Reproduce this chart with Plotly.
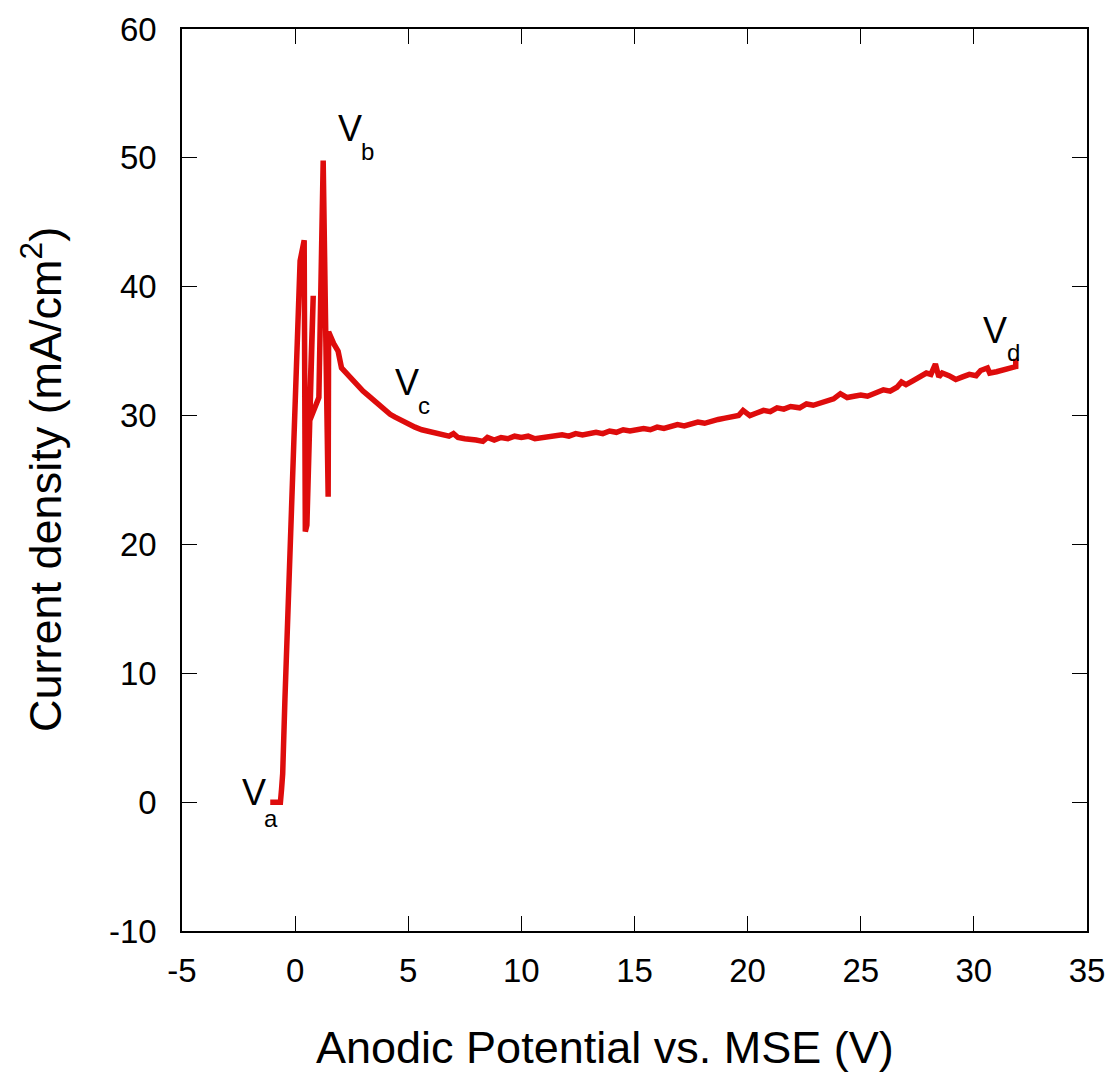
import plotly.graph_objects as go

# Anodic potential (V) and current density (mA/cm^2)
potential = [-1.1, -0.65, -0.6, -0.55, -0.45, -0.3, -0.15, 0.08, 0.22, 0.4, 0.45, 0.52, 0.8, 0.62, 1.05, 1.24, 1.46, 1.48,
             1.7, 1.9, 2.05, 2.3, 2.6, 2.8, 3.0, 3.2, 3.4, 3.6, 3.8, 4.0, 4.2, 4.4, 4.6, 4.8, 5.0, 5.3, 5.6, 5.9,
             6.2, 6.5, 6.8, 7.0, 7.2, 7.5, 7.8, 8.0, 8.3, 8.5, 8.8, 9.1, 9.4, 9.7, 10.0, 10.3, 10.6, 10.9, 11.2,
             11.5, 11.8, 12.1, 12.4, 12.7, 13.0, 13.3, 13.6, 13.9, 14.2, 14.5, 14.8, 15.1, 15.4, 15.7, 16.0, 16.3,
             16.6, 16.9, 17.2, 17.5, 17.8, 18.1, 18.4, 18.7, 19.0, 19.3, 19.6, 19.8, 20.1, 20.4, 20.7, 21.0, 21.3,
             21.6, 21.9, 22.3, 22.6, 22.9, 23.2, 23.5, 23.8, 24.1, 24.4, 24.7, 25.0, 25.3, 25.7, 26.0, 26.3, 26.6,
             26.8, 27.0, 27.3, 27.6, 27.9, 28.1, 28.3, 28.45, 28.6, 28.9, 29.2, 29.5, 29.8, 30.1, 30.3, 30.6, 30.7,
             31.0, 31.4, 31.7, 31.85, 31.85]
current = [0.0, 0.0, 1.0, 2.2, 8.0, 15.5, 23.0, 34.3, 42.0, 43.6, 21.0, 21.5, 39.3, 29.5, 31.4, 49.8, 23.7, 36.5,
           35.6, 35.0, 33.7, 33.2, 32.7, 32.3, 31.9, 31.6, 31.3, 30.9, 30.7, 30.4, 30.1, 29.9, 29.7, 29.5, 29.3, 29.1, 28.9, 28.8,
           28.7, 28.5, 28.4, 28.6, 28.3, 28.2, 28.2, 28.1, 28.0, 28.3, 28.1, 28.3, 28.2, 28.4, 28.3, 28.4, 28.2, 28.3, 28.3,
           28.4, 28.5, 28.4, 28.6, 28.5, 28.6, 28.7, 28.6, 28.8, 28.7, 28.9, 28.8, 28.9, 29.0, 28.9, 29.1, 29.0,
           29.2, 29.3, 29.2, 29.4, 29.5, 29.4, 29.6, 29.7, 29.8, 29.9, 30.0, 30.4, 30.0, 30.2, 30.4, 30.3, 30.6,
           30.5, 30.7, 30.6, 30.9, 30.8, 31.0, 31.1, 31.3, 31.7, 31.4, 31.5, 31.6, 31.5, 31.8, 32.0, 31.9, 32.2,
           32.6, 32.4, 32.7, 33.0, 33.3, 33.2, 34.0, 33.0, 33.3, 33.1, 32.8, 33.0, 33.2, 33.1, 33.5, 33.7, 33.3,
           33.4, 33.6, 33.7, 33.8, 34.4]

x_ticks = [-5, 0, 5, 10, 15, 20, 25, 30, 35]
x_tick_text = ["-5", "0", "5", "10", "15", "20", "25", "30", "35"]
y_ticks = [-10, 0, 10, 20, 30, 40, 50, 60]
y_tick_text = ["-10", "0", "10", "20", "30", "40", "50", "60"]

# Point labels: letter, position of "V" and of its subscript (data units)
label_names = ["a", "b", "c", "d"]
label_v_x = [-1.81, 2.41, 4.95, 30.94]
label_v_y = [0.75, 52.27, 32.6, 36.6]
label_s_x = [-1.06, 3.2, 5.7, 31.73]
label_s_y = [-1.3, 50.5, 30.8, 34.9]

FONT = "Liberation Sans, Arial, sans-serif"

# page body has an 8px margin; compensate so the plot lands where the reference has it
OFF = 8
W, H = 1113 - OFF, 1074 - OFF
L, R, T, B = 182 - OFF, 1087 - OFF, 29 - OFF, 931 - OFF

fig = go.Figure()
fig.add_trace(go.Scatter(x=potential, y=current, mode="lines",
                         line=dict(color="rgb(222,12,12)", width=5.5),
                         showlegend=False))

annotations = []
for n, vx, vy, sx, sy in zip(label_names, label_v_x, label_v_y, label_s_x, label_s_y):
    annotations.append(dict(x=vx, y=vy, xref="x", yref="y", text="V", showarrow=False,
                            font=dict(family=FONT, size=36, color="black"),
                            xanchor="center", yanchor="middle"))
    annotations.append(dict(x=sx, y=sy, xref="x", yref="y", text=n, showarrow=False,
                            font=dict(family=FONT, size=24, color="black"),
                            xanchor="center", yanchor="middle"))

annotations.append(dict(x=(605 - OFF - L) / (R - L), y=-(1047 - OFF - B) / (B - T), xref="paper", yref="paper",
                        text="Anodic Potential vs. MSE (V)", showarrow=False,
                        font=dict(family=FONT, size=45, color="black"),
                        xanchor="center", yanchor="middle"))
annotations.append(dict(x=-(L - (42 - OFF)) / (R - L), y=0.5, xref="paper", yref="paper",
                        text="Current density (mA/cm<sup>2</sup>)", showarrow=False, textangle=-90,
                        font=dict(family=FONT, size=45, color="black"),
                        xanchor="center", yanchor="middle"))

fig.update_layout(
    width=W, height=H,
    margin=dict(l=L, r=W - R, t=T, b=H - B),
    paper_bgcolor="white", plot_bgcolor="white",
    font=dict(family=FONT, color="black"),
    annotations=annotations,
)

fig.update_xaxes(range=[-5, 35], tickvals=x_ticks, ticktext=x_tick_text, ticks="inside", ticklen=15, tickwidth=1,
                 tickcolor="black", showline=True, linecolor="black", linewidth=1.5, mirror="ticks",
                 showgrid=False, zeroline=False, tickfont=dict(family=FONT, size=33, color="black"),
                 ticklabelstandoff=10, automargin=False)
fig.update_yaxes(range=[-10, 60], tickvals=y_ticks, ticktext=y_tick_text, ticks="inside", ticklen=15, tickwidth=1,
                 tickcolor="black", showline=True, linecolor="black", linewidth=1.5, mirror="ticks",
                 showgrid=False, zeroline=False, tickfont=dict(family=FONT, size=33, color="black"),
                 ticklabelstandoff=17, automargin=False)

fig.write_html("out.html")
